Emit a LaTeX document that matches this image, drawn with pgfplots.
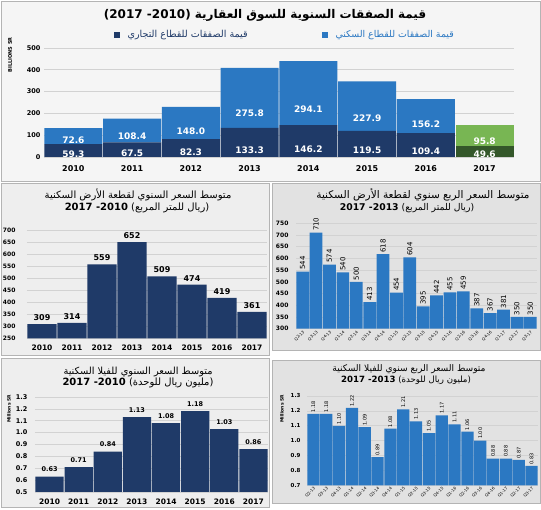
\documentclass[border=0pt]{standalone}
\usepackage{pgfplots}
\pgfplotsset{compat=1.18}
\usepackage{fontspec}
\setmainfont{DejaVu Sans}
\newfontfamily\arabicfont[Script=Arabic]{DejaVu Sans}
\TeXXeTstate=1
\definecolor{navy}{HTML}{1F3A68}
\definecolor{sblue}{HTML}{2B78C2}
\definecolor{dgreen}{HTML}{34572A}
\definecolor{lgreen}{HTML}{78B653}
\definecolor{gridc}{HTML}{D2D2D2}
\definecolor{bgA}{HTML}{F5F5F5}
\definecolor{bgB}{HTML}{EEEEEE}
\definecolor{bgC}{HTML}{E2E2E2}
\definecolor{framec}{HTML}{B4B4B4}
\newcommand{\fs}[1]{\fontsize{#1}{#1}\selectfont}
\newcommand{\AR}[1]{{\arabicfont\beginR #1\endR}}

\pgfplotsset{
  panel/.style={
    scale only axis, anchor=south west, clip=false,
    axis line style={draw=none}, tick style={draw=none}, major tick length=0pt,
    ymajorgrids, grid style={gridc, line width=0.6pt},
    /pgf/number format/assume math mode=true,
    enlargelimits=false,
  },
  inlab/.style={visualization depends on=rawy\as\rawy,
    nodes near coords={\pgfmathprintnumber[fixed,fixed zerofill,precision=1]{\rawy}},
    every node near coord/.append style={anchor=center, yshift={-0.0545pt*\rawy}, text=white, font=\bfseries\fs{9}}},
  totlab/.style={fill=none, draw=none, point meta=explicit symbolic, nodes near coords,
    every node near coord/.append style={anchor=south, text=black, font=\bfseries\fs{9.5}, yshift=2pt}},
}

\begin{document}
\begin{tikzpicture}[x=1pt,y=1pt]
\path[use as bounding box] (0,0) rectangle (541,510);
\fill[white] (0,0) rectangle (541,510);
% panels
\filldraw[fill=bgA, draw=framec, line width=0.6pt] (1,329) rectangle (540,509);
\filldraw[fill=bgB, draw=framec, line width=0.6pt] (1,155) rectangle (269.5,327);
\filldraw[fill=bgC, draw=framec, line width=0.6pt] (272,160) rectangle (540,327);
\filldraw[fill=bgB, draw=framec, line width=0.6pt] (1,3) rectangle (269.5,152);
\filldraw[fill=bgC, draw=framec, line width=0.6pt] (272,7) rectangle (540,150);

% ---------- top titles ----------
\node[font=\bfseries\fs{12}] at (265,495) {(2017 -2010) \AR{قيمة الصفقات السنوية للسوق العقارية}};
\fill[navy] (114,472) rectangle (120,478);
\node[anchor=west, text=navy, font=\fs{9.6}] at (124,475) {\AR{قيمة الصفقات للقطاع التجاري}};
\fill[sblue] (322,472) rectangle (328,478);
\node[anchor=west, text=sblue, font=\fs{9.4}] at (332,475) {\AR{قيمة الصفقات للقطاع السكني}};
\node[rotate=90, font=\bfseries\fs{5}] at (10,455) {BILLIONS SR};

% ---------- top chart ----------
\begin{axis}[panel, at={(44pt,353pt)}, width=470pt, height=109pt,
  xmin=-0.5, xmax=7.5, ymin=0, ymax=500, ytick={0,100,...,500},
  xtick={0,...,7}, xticklabels={2010,2011,2012,2013,2014,2015,2016,2017},
  xticklabel style={font=\bfseries\fs{8}, yshift=-5pt},
  yticklabel style={font=\bfseries\fs{6.5}},
  ybar stacked, bar width=0.985]
\addplot[fill=navy, draw=none, inlab]
  coordinates {(0,59.3) (1,67.5) (2,82.3) (3,133.3) (4,146.2) (5,119.5) (6,109.4)};
\addplot[fill=sblue, draw=none, inlab]
  coordinates {(0,72.6) (1,108.4) (2,148.0) (3,275.8) (4,294.1) (5,227.9) (6,156.2)};
\addplot[totlab]
  coordinates {(0,0)[131.8] (1,0)[175.9] (2,0)[230.3] (3,0)[409.0] (4,0)[440.3] (5,0)[347.4] (6,0)[265.6]};
\end{axis}
\begin{axis}[panel, hide axis, at={(44pt,353pt)}, width=470pt, height=109pt,
  xmin=-0.5, xmax=7.5, ymin=0, ymax=500, ybar stacked, bar width=0.985]
\addplot[fill=dgreen, draw=none, inlab] coordinates {(7,49.6)};
\addplot[fill=lgreen, draw=none, inlab] coordinates {(7,95.8)};
\addplot[totlab] coordinates {(7,0)[145.4]};
\end{axis}

% ---------- middle left ----------
\node[font=\fs{10}] at (138,315) {\AR{متوسط السعر السنوي لقطعة الأرض السكنية}};
\node[font=\fs{10}] at (137,302) {\textbf{2017 -2010} (\AR{ريال للمتر المربع})};
\begin{axis}[panel, at={(27pt,171.7pt)}, width=240pt, height=107.6pt,
  xmin=-0.5, xmax=7.5, ymin=250, ymax=700, ytick={250,300,...,700},
  xtick={0,...,7}, xticklabels={2010,2011,2012,2013,2014,2015,2016,2017},
  xticklabel style={font=\bfseries\fs{7.5}, yshift=-3pt},
  yticklabel style={font=\bfseries\fs{6}, xshift=-8pt},
  ybar, bar width=0.97]
\addplot[fill=navy, draw=none, nodes near coords,
  every node near coord/.append style={font=\bfseries\fs{8}, text=black}]
  coordinates {(0,309) (1,314) (2,559) (3,652) (4,509) (5,474) (6,419) (7,361)};
\end{axis}

% ---------- middle right ----------
\node[font=\fs{10.5}] at (423,315) {\AR{متوسط السعر الربع سنوي لقطعة الأرض السكنية}};
\node[font=\fs{9.3}] at (407,302) {\textbf{2017 -2013} (\AR{ريال للمتر المربع})};
\begin{axis}[panel, at={(296pt,181.3pt)}, width=241pt, height=105.4pt,
  xmin=-0.5, xmax=17.5, ymin=300, ymax=750, ytick={300,350,...,750},
  xtick={0,...,17},
  xticklabels={Q2-13,Q3-13,Q4-13,Q1-14,Q2-14,Q3-14,Q4-14,Q1-15,Q2-15,Q3-15,Q4-15,Q1-16,Q2-16,Q3-16,Q4-16,Q1-17,Q2-17,Q3-17},
  xticklabel style={font=\fs{4}, rotate=45, anchor=north east, inner sep=1pt},
  yticklabel style={font=\bfseries\fs{6}, xshift=-4pt},
  ybar, bar width=0.95]
\addplot[fill=sblue, draw=none, nodes near coords,
  every node near coord/.append style={font=\fs{7}, text=black, rotate=90, anchor=west, inner sep=1.5pt}]
  coordinates {(0,544) (1,710) (2,574) (3,540) (4,500) (5,413) (6,618) (7,454) (8,604)
    (9,395) (10,442) (11,455) (12,459) (13,387) (14,367) (15,381) (16,350) (17,350)};
\end{axis}

% ---------- bottom left ----------
\node[font=\fs{9.8}] at (138,138) {\AR{متوسط السعر السنوي للفيلا السكنية}};
\node[font=\fs{10}] at (138,127) {\textbf{2017 -2010} (\AR{مليون ريال للوحدة})};
\node[rotate=90, font=\bfseries\fs{4.5}] at (9,101) {Millions SR};
\begin{axis}[panel, at={(35pt,18pt)}, width=233pt, height=95pt,
  xmin=-0.5, xmax=7.5, ymin=0.5, ymax=1.3, ytick={0.5,0.6,0.7,0.8,0.9,1.0,1.1,1.2,1.3},
  yticklabel style={font=\bfseries\fs{6.5}, xshift=-4pt, /pgf/number format/.cd, fixed, fixed zerofill, precision=1},
  xtick={0,...,7}, xticklabels={2010,2011,2012,2013,2014,2015,2016,2017},
  xticklabel style={font=\bfseries\fs{7.5}, yshift=-3pt},
  ybar, bar width=0.97]
\addplot[fill=navy, draw=none,
  nodes near coords={\pgfmathprintnumber[fixed,fixed zerofill,precision=2]{\pgfplotspointmeta}},
  every node near coord/.append style={font=\bfseries\fs{6.5}, text=black, yshift=1pt}]
  coordinates {(0,0.63) (1,0.71) (2,0.84) (3,1.13) (4,1.08) (5,1.18) (6,1.03) (7,0.86)};
\end{axis}

% ---------- bottom right ----------
\node[font=\fs{9.1}] at (409,141) {\AR{متوسط السعر الربع سنوي للفيلا السكنية}};
\node[font=\fs{8.6}] at (406,130) {\textbf{2017 -2013} (\AR{مليون ريال للوحدة})};
\node[rotate=90, font=\bfseries\fs{4.5}] at (282,101) {Millions SR};
\begin{axis}[panel, at={(307pt,24.7pt)}, width=231pt, height=89.3pt,
  xmin=-0.5, xmax=17.5, ymin=0.7, ymax=1.3, ytick={0.7,0.8,0.9,1.0,1.1,1.2,1.3},
  yticklabel style={font=\bfseries\fs{5.5}, xshift=-3pt, /pgf/number format/.cd, fixed, fixed zerofill, precision=1},
  xtick={0,...,17},
  xticklabels={Q2-13,Q3-13,Q4-13,Q1-14,Q2-14,Q3-14,Q4-14,Q1-15,Q2-15,Q3-15,Q4-15,Q1-16,Q2-16,Q3-16,Q4-16,Q1-17,Q2-17,Q3-17},
  xticklabel style={font=\fs{4}, rotate=45, anchor=north east, inner sep=1pt},
  ybar, bar width=0.95]
\addplot[fill=sblue, draw=none,
  nodes near coords={\pgfmathprintnumber[fixed,fixed zerofill,precision=2]{\pgfplotspointmeta}},
  every node near coord/.append style={font=\fs{5}, text=black, rotate=90, anchor=west, inner sep=1.5pt}]
  coordinates {(0,1.18) (1,1.18) (2,1.10) (3,1.22) (4,1.09) (5,0.89) (6,1.08) (7,1.21) (8,1.13)
    (9,1.05) (10,1.17) (11,1.11) (12,1.06) (13,1.00) (14,0.88) (15,0.88) (16,0.87) (17,0.83)};
\end{axis}
\end{tikzpicture}
\end{document}
